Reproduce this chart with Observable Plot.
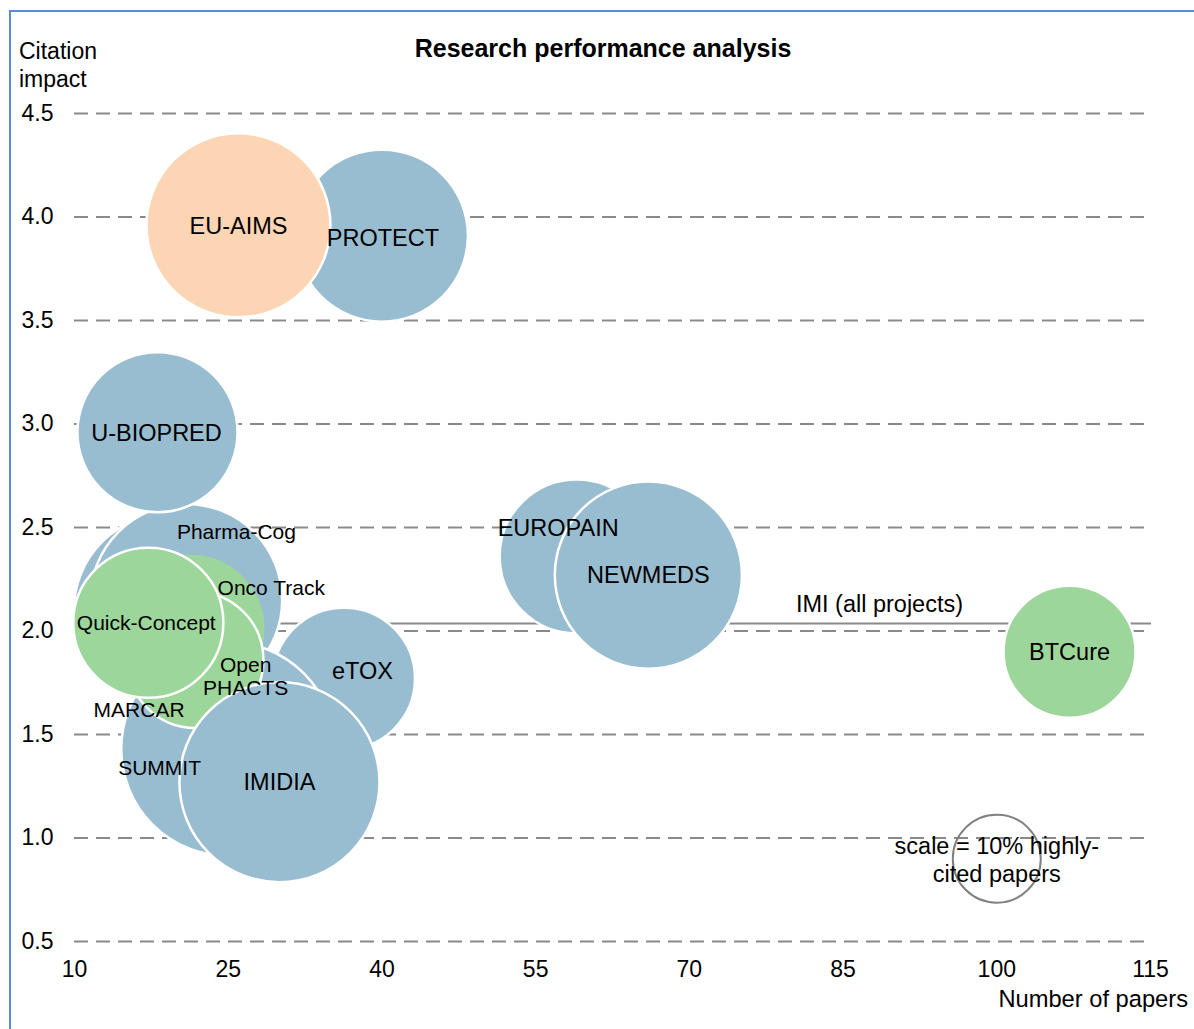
<!DOCTYPE html>
<html><head><meta charset="utf-8">
<script src="https://cdn.jsdelivr.net/npm/d3@7"></script>
<script src="https://cdn.jsdelivr.net/npm/@observablehq/plot@0.6"></script>
<style>
body{margin:0;background:#fff;font-family:"Liberation Sans",Arial,sans-serif;}
#wrap{position:relative;width:1194px;height:1029px;overflow:hidden;background:#fff;}
#frame{position:absolute;left:9px;top:10px;right:-10px;bottom:-10px;border-left:2px solid #5b8bd0;border-top:2px solid #5b8bd0;}
#chart{position:absolute;left:0;top:0;}
.t{position:absolute;color:#000;font-size:23px;white-space:nowrap;}
</style></head><body>
<div id="wrap">
<div id="frame"></div>
<div id="chart"></div>
<div class="t" style="left:0;width:1206px;text-align:center;top:34px;font-weight:bold;font-size:25px;">Research performance analysis</div>
<div class="t" style="left:19px;top:37px;line-height:28px;">Citation<br>impact</div>
<div class="t" style="right:6px;top:986px;font-size:23.7px;">Number of papers</div>
</div>
<script>
// ---- data (drawing order, back to front) ----
const projects    = ["PROTECT","EU-AIMS","EUROPAIN","NEWMEDS","BTCure","eTOX","MARCAR","Pharma-Cog","U-BIOPRED","Onco Track","SUMMIT","Open PHACTS","Quick-Concept","IMIDIA"];
const papers      = [40.0, 26.0, 59.0, 66.0, 107.1, 36.3, 19.4, 20.9, 18.1, 21.3, 25.0, 21.8, 17.2, 30.0];
const impact      = [3.91, 3.96, 2.36, 2.27, 1.90, 1.77, 2.10, 2.15, 2.96, 2.01, 1.43, 1.86, 2.04, 1.27];
const highlyCited = [38.2, 43.7, 30.6, 45.2, 22.5, 26.0, 48.6, 47.6, 33.1, 27.5, 59.1, 23.9, 29.1, 51.7];
const groups      = ["blue","orange","blue","blue","green","blue","blue","blue","blue","green","blue","green","green","blue"];
const labelText   = ["PROTECT","EU-AIMS","EUROPAIN","NEWMEDS","BTCure","eTOX","MARCAR","Pharma-Cog","U-BIOPRED","Onco Track","SUMMIT","Open\nPHACTS","Quick-Concept","IMIDIA"];
const labelX      = [40.1, 26.0, 57.2, 66.0, 107.1, 38.1, 16.3, 25.8, 18.0, 29.2, 18.3, 26.7, 17.0, 30.0];
const labelY      = [3.90, 3.96, 2.50, 2.27, 1.90, 1.81, 1.62, 2.48, 2.96, 2.21, 1.34, 1.78, 2.04, 1.27];
const smallLabels = ["MARCAR","Pharma-Cog","Onco Track","SUMMIT","Open PHACTS","Quick-Concept"];
const imiAll = 2.036;
const imiLabel = "IMI (all projects)";
const scaleRef = {papers: 100, impact: 0.9, pct: 10, text: "scale = 10% highly-\ncited papers"};
const xTicks = [10, 25, 40, 55, 70, 85, 100, 115];
const yTicks = [0.5, 1.0, 1.5, 2.0, 2.5, 3.0, 3.5, 4.0, 4.5];

const palette = {blue: "#98bdd0", green: "#9dd69b", orange: "#fcd5b4"};

const rows = projects.map((p, i) => ({name: p, papers: papers[i], impact: impact[i], pct: highlyCited[i], group: groups[i]}));
const labels = projects.map((p, i) => ({name: p, text: labelText[i], x: labelX[i], y: labelY[i]}));

const chart = Plot.plot({
  width: 1194, height: 1029,
  marginLeft: 74, marginRight: 44, marginTop: 113, marginBottom: 88,
  x: {domain: [10, 115]},
  y: {domain: [0.5, 4.5]},
  r: {type: "sqrt", domain: [0, 10], range: [0, 44]},
  color: {type: "identity"},
  style: {fontFamily: "'Liberation Sans', Arial, sans-serif", fontSize: "23px", color: "#000", background: "transparent", overflow: "visible"},
  marks: [
    Plot.ruleY(yTicks, {x1: 10, x2: 115, stroke: "#8a8a8a", strokeWidth: 2, strokeDasharray: "14,8"}),
    Plot.ruleY([imiAll], {x1: 10, x2: 115.1, stroke: "#8a8a8a", strokeWidth: 2}),
    Plot.axisX({ticks: xTicks, tickSize: 0, tickPadding: 19, tickFormat: d => String(d), fontSize: 23, label: null}),
    Plot.axisY({ticks: yTicks, tickSize: 0, tickPadding: 21, tickFormat: d => d.toFixed(1), fontSize: 23, label: null}),
    Plot.dot(rows, {
      x: "papers", y: "impact", r: "pct",
      fill: d => palette[d.group],
      stroke: d => d.name === "Onco Track" ? palette[d.group] : "#ffffff",
      strokeWidth: 2.5, fillOpacity: 1, sort: null
    }),
    Plot.dot([scaleRef], {x: "papers", y: "impact", r: "pct", fill: "none", stroke: "#808080", strokeWidth: 2}),
    Plot.text(labels, {
      x: "x", y: "y", text: "text", fill: "#000",
      fontSize: d => smallLabels.includes(d.name) ? 21 : 23.5,
      lineHeight: 1.1
    }),
    Plot.text([imiLabel], {x: 88.55, y: 2.128, text: d => d, fontSize: 23.5, fill: "#000"}),
    Plot.text([scaleRef], {x: "papers", y: "impact", text: "text", fontSize: 23.5, lineHeight: 1.2, fill: "#000"})
  ]
});
document.getElementById("chart").appendChild(chart);
</script>
</body></html>
